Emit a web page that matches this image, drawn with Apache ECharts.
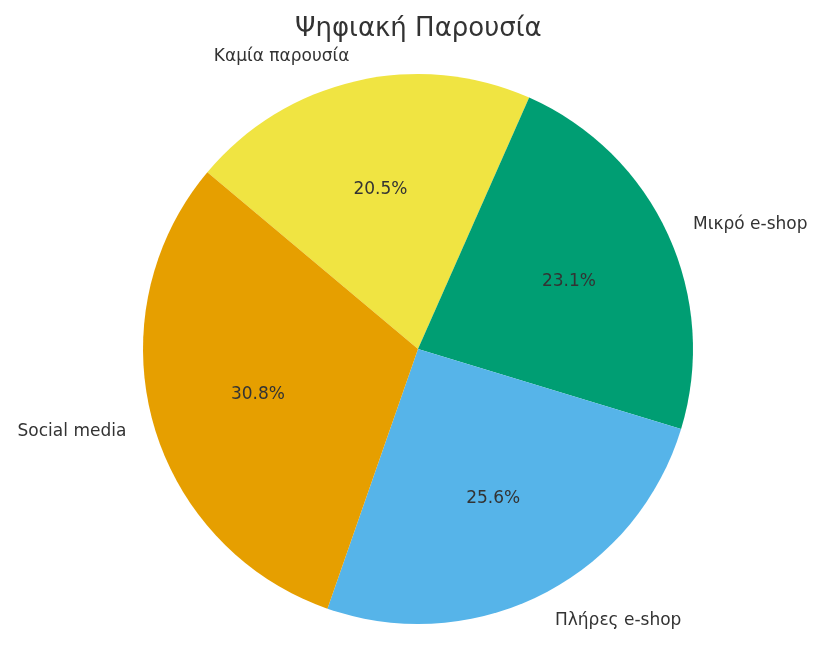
<!DOCTYPE html>
<html>
<head>
<meta charset="utf-8">
<script src="https://cdn.jsdelivr.net/npm/echarts@6/dist/echarts.min.js"></script>
<style>html,body{margin:0;padding:0;background:#fff}#c{width:825px;height:665px}</style>
</head>
<body>
<div id="c"></div>
<script>
const categories = ['Καμία παρουσία', 'Μικρό e-shop', 'Πλήρες e-shop', 'Social media'];
const values = [8, 9, 10, 12];
const colors = ['#F0E442', '#009E73', '#56B4E9', '#E69F00'];
const titleText = 'Ψηφιακή Παρουσία';

const font = '"DejaVu Sans", sans-serif';
const data = categories.map((c, i) => ({ name: c, value: values[i], itemStyle: { color: colors[i] } }));
const R = 275;
const richT = { t: { fontFamily: font, fontSize: 17, color: '#333', padding: [4, 0, 0, 0] } };
const chart = echarts.init(document.getElementById('c'), null, { renderer: 'canvas' });
chart.setOption({
  animation: false,
  backgroundColor: '#fff',
  title: {
    text: titleText, left: 290, top: 11,
    textStyle: { fontFamily: font, fontSize: 26, fontWeight: 'normal', color: '#333' }
  },
  series: [
    {
      type: 'pie', center: [418, 349], radius: [0, R], startAngle: 140, clockwise: true,
      avoidLabelOverlap: false, silent: true,
      data: data,
      label: { show: true, position: 'outside', formatter: '{t|{b}}', rich: richT, fontFamily: font, fontSize: 17, color: '#333', distanceToLabelLine: 0 },
      labelLine: { show: false, length: 27.5, length2: 0 }
    },
    {
      type: 'pie', center: [418, 349], radius: [51, R], startAngle: 140, clockwise: true,
      avoidLabelOverlap: false, silent: true, percentPrecision: 1,
      data: data.map(d => ({ name: d.name, value: d.value, itemStyle: { color: 'rgba(0,0,0,0)' } })),
      label: { show: true, position: 'inside', formatter: '{t|{d}%}', rich: richT, fontFamily: font, fontSize: 17, color: '#333' },
      labelLine: { show: false }
    }
  ]
});
</script>
</body>
</html>
